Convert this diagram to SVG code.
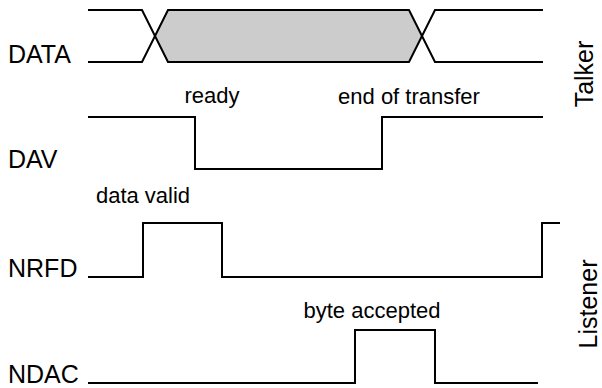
<svg xmlns="http://www.w3.org/2000/svg" width="602" height="388" viewBox="0 0 602 388">
<style>
.sig{fill:none;stroke:#000;stroke-width:2;stroke-linejoin:miter}
.lbl{font-family:"Liberation Sans",Arial,sans-serif;font-size:25px;fill:#000}
.note{font-family:"Liberation Sans",Arial,sans-serif;font-size:22px;fill:#000}
</style>
<rect width="602" height="388" fill="#fff"/>
<g id="connectors">
<polygon points="155,36 168,10 409,10 422,36 409,62 168,62" fill="#cccccc" stroke="none"/>
<polyline class="sig" points="88,10 142,10 168,62 409,62 435,10 543,10"/>
<polyline class="sig" points="88,62 142,62 168,10 409,10 435,62 543,62"/>
<polyline class="sig" points="88,117 195,117 195,169 382,169 382,117 543,117"/>
<polyline class="sig" points="88,277 143,277 143,223 222,223 222,277 542,277 542,223 560,223"/>
<polyline class="sig" points="88,383 355,383 355,330 435,330 435,383 538,383"/>
</g>
<g id="DATA"><text class="lbl" x="8" y="63">DATA</text></g>
<g id="DAV"><text class="lbl" x="8" y="168">DAV</text></g>
<g id="NRFD"><text class="lbl" x="8" y="277">NRFD</text></g>
<g id="NDAC"><text class="lbl" x="8" y="383">NDAC</text></g>
<g id="ready"><text class="note" x="212" y="103" text-anchor="middle">ready</text></g>
<g id="end"><text class="note" x="409" y="104" text-anchor="middle">end of transfer</text></g>
<g id="datavalid"><text class="note" x="143" y="203" text-anchor="middle">data valid</text></g>
<g id="byte"><text class="note" x="372" y="318" text-anchor="middle">byte accepted</text></g>
<g id="talker"><text class="lbl" transform="translate(593,74) rotate(-90)" text-anchor="middle">Talker</text></g>
<g id="listener"><text class="lbl" transform="translate(597,304) rotate(-90)" text-anchor="middle">Listener</text></g>
</svg>
